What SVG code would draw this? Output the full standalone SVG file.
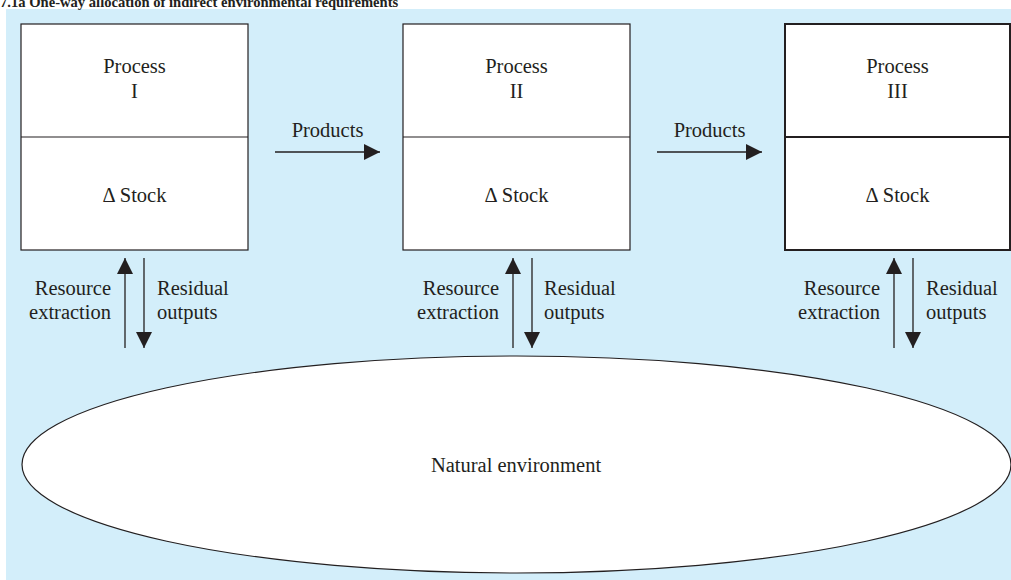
<svg xmlns="http://www.w3.org/2000/svg" width="1011" height="580" viewBox="0 0 1011 580">
  <defs>
    <marker id="ah" viewBox="0 0 16 16" refX="16" refY="8" markerWidth="16" markerHeight="16" markerUnits="userSpaceOnUse" orient="auto">
      <path d="M0,0 L16,8 L0,16 z" fill="#231f20"/>
    </marker>
    <style>
      text { font-family: "Liberation Serif", "Times New Roman", serif; fill: #231f20; }
      .t { font-size: 20.5px; }
      .c { text-anchor: middle; }
      .r { text-anchor: end; }
      .box { fill: #ffffff; stroke: #231f20; stroke-width: 1.2; }
      .bold { stroke-width: 2; }
      .conn { stroke: #231f20; stroke-width: 1.3; fill: none; marker-end: url(#ah); }
    </style>
  </defs>
  <rect x="0" y="0" width="1011" height="580" fill="#ffffff"/>
  <rect x="6" y="9" width="1005" height="571" fill="#d3eefa"/>
  <text x="0" y="7" font-size="14.6" font-weight="bold">7.1a  One-way allocation of indirect environmental requirements</text>

  <g id="environment">
    <ellipse cx="516.5" cy="464.5" rx="494.5" ry="108.5" fill="#ffffff" stroke="#231f20" stroke-width="1.2"/>
    <text class="t c" x="516" y="472">Natural environment</text>
  </g>

  <g id="process1">
    <rect class="box" x="21" y="24" width="227" height="226"/>
    <line x1="21" y1="137" x2="248" y2="137" stroke="#231f20" stroke-width="1.2"/>
    <text class="t c" x="134.5" y="73">Process</text>
    <text class="t c" x="134.5" y="98">I</text>
    <text class="t c" x="134.5" y="202">Δ Stock</text>
  </g>

  <g id="process2">
    <rect class="box" x="403" y="24" width="227" height="226"/>
    <line x1="403" y1="137" x2="630" y2="137" stroke="#231f20" stroke-width="1.2"/>
    <text class="t c" x="516.5" y="73">Process</text>
    <text class="t c" x="516.5" y="98">II</text>
    <text class="t c" x="516.5" y="202">Δ Stock</text>
  </g>

  <g id="process3">
    <rect class="box bold" x="785" y="24" width="225" height="226"/>
    <line x1="785" y1="137" x2="1010" y2="137" stroke="#231f20" stroke-width="2"/>
    <text class="t c" x="897.5" y="73">Process</text>
    <text class="t c" x="897.5" y="98">III</text>
    <text class="t c" x="897.5" y="202">Δ Stock</text>
  </g>

  <g id="connectors">
    <line class="conn" x1="275" y1="152" x2="380" y2="152"/>
    <text class="t c" x="327.5" y="137">Products</text>
    <line class="conn" x1="657" y1="152" x2="762" y2="152"/>
    <text class="t c" x="709.5" y="137">Products</text>

    <line class="conn" x1="125" y1="348" x2="125" y2="258"/>
    <line class="conn" x1="144" y1="258" x2="144" y2="348"/>
    <text class="t r" x="111" y="295">Resource</text>
    <text class="t r" x="111" y="319">extraction</text>
    <text class="t" x="157" y="295">Residual</text>
    <text class="t" x="157" y="319">outputs</text>

    <line class="conn" x1="513" y1="348" x2="513" y2="258"/>
    <line class="conn" x1="532" y1="258" x2="532" y2="348"/>
    <text class="t r" x="499" y="295">Resource</text>
    <text class="t r" x="499" y="319">extraction</text>
    <text class="t" x="544" y="295">Residual</text>
    <text class="t" x="544" y="319">outputs</text>

    <line class="conn" x1="894" y1="348" x2="894" y2="258"/>
    <line class="conn" x1="913" y1="258" x2="913" y2="348"/>
    <text class="t r" x="880" y="295">Resource</text>
    <text class="t r" x="880" y="319">extraction</text>
    <text class="t" x="926" y="295">Residual</text>
    <text class="t" x="926" y="319">outputs</text>
  </g>
</svg>
